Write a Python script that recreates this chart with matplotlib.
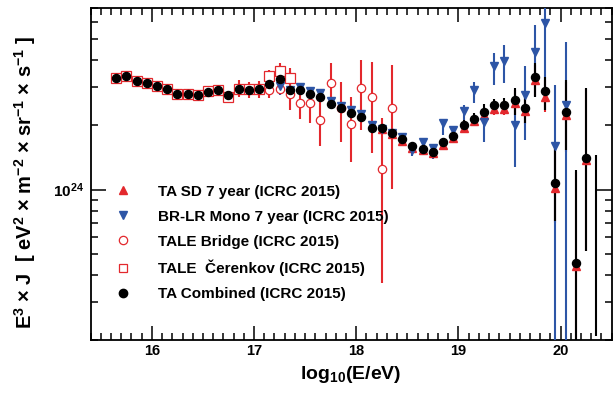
import numpy as np
import matplotlib
matplotlib.use('Agg')
import matplotlib.pyplot as plt
from matplotlib.lines import Line2D
from matplotlib.ticker import FixedLocator, LogLocator, MultipleLocator, NullFormatter

plt.rcParams['font.family'] = ['Liberation Sans', 'DejaVu Sans']
plt.rcParams['font.weight'] = 'bold'
plt.rcParams['mathtext.fontset'] = 'custom'
plt.rcParams['mathtext.rm'] = 'Liberation Sans:bold'
plt.rcParams['mathtext.bf'] = 'Liberation Sans:bold'
plt.rcParams['mathtext.it'] = 'Liberation Sans:bold'
plt.rcParams['mathtext.default'] = 'rm'

UNIT = 1e24  # all values below: E^3 J in units of 1e24 eV^2 m^-2 sr^-1 s^-1
RED = '#e3282d'
BLUE = '#2d55a6'

# TA combined
comb_x = [15.65, 15.75, 15.85, 15.95, 16.05, 16.15, 16.25, 16.35, 16.45, 16.55, 16.65, 16.75,
          16.85, 16.95, 17.05, 17.15, 17.25, 17.35, 17.45, 17.55, 17.65, 17.75, 17.85, 17.95,
          18.05, 18.15, 18.25, 18.35, 18.45, 18.55, 18.65, 18.75, 18.85, 18.95, 19.05, 19.15,
          19.25, 19.35, 19.45, 19.55, 19.65, 19.75, 19.85, 19.95, 20.05, 20.15, 20.25]
comb_y = [3.31, 3.37, 3.19, 3.12, 3.03, 2.93, 2.77, 2.77, 2.76, 2.85, 2.90, 2.75,
          2.94, 2.92, 2.94, 3.11, 3.27, 2.92, 2.92, 2.77, 2.70, 2.50, 2.39, 2.27,
          2.17, 1.94, 1.94, 1.83, 1.72, 1.59, 1.55, 1.50, 1.66, 1.78, 1.99, 2.14,
          2.30, 2.47, 2.48, 2.61, 2.39, 3.35, 2.89, 1.07, 2.29, 0.458, 1.40]
# error bars that stick out of the markers (20.35 has a bar only)
comb_ex = [19.05, 19.15, 19.25, 19.35, 19.45, 19.55, 19.65, 19.75, 19.85, 19.95, 20.05, 20.15, 20.25, 20.35]
comb_lo = [1.88, 2.00, 2.13, 2.27, 2.30, 2.23, 2.04, 2.70, 2.35, 0.713, 1.53, 0.15, 0.518, 0.209]
comb_hi = [2.11, 2.27, 2.50, 2.64, 2.66, 2.97, 2.70, 3.87, 3.34, 1.62, 3.23, 1.23, 2.97, 1.45]

# TA SD 7 year
sd_x = [18.25, 18.35, 18.45, 18.55, 18.65, 18.75, 18.85, 18.95, 19.05, 19.15, 19.25,
        19.35, 19.45, 19.55, 19.65, 19.75, 19.85, 19.95, 20.05, 20.15, 20.25]
sd_y = [1.92, 1.81, 1.69, 1.57, 1.53, 1.48, 1.62, 1.74, 1.94, 2.08, 2.22,
        2.38, 2.38, 2.52, 2.31, 3.23, 2.70, 1.02, 2.22, 0.441, 1.37]
sd_ex = [19.05, 19.15, 19.25, 19.35, 19.45, 19.55, 19.65, 19.75, 19.85, 19.95, 20.05, 20.15, 20.25]
sd_lo = [1.86, 1.98, 2.10, 2.22, 2.22, 2.22, 2.02, 2.72, 2.30, 0.70, 1.50, 0.15, 0.518]
sd_hi = [2.03, 2.19, 2.36, 2.56, 2.56, 2.92, 2.64, 3.80, 3.25, 1.55, 3.15, 1.21, 2.93]

# BR-LR Mono 7 year
br_x = [17.25, 17.35, 17.45, 17.55, 17.65, 17.75, 17.85, 17.95, 18.05, 18.15, 18.25, 18.35,
        18.45, 18.55, 18.65, 18.75, 18.85, 18.95, 19.05, 19.15, 19.25, 19.35, 19.45, 19.55,
        19.65, 19.75, 19.85, 19.95, 20.05]
br_y = [3.03, 2.90, 3.00, 2.87, 2.82, 2.59, 2.45, 2.35, 2.25, 2.00, 1.92, 1.84,
        1.76, 1.53, 1.67, 1.56, 2.04, 1.90, 2.33, 2.90, 2.07, 3.77, 3.98, 2.00,
        2.75, 4.37, 5.93, 1.59, 2.48]
br_lo = [2.75, 2.82, 2.93, 2.79, 2.75, 2.53, 2.39, 2.29, 2.19, 1.95, 1.87, 1.79,
         1.70, 1.43, 1.50, 1.39, 1.80, 1.70, 2.11, 2.52, 1.67, 3.06, 3.13, 1.28,
         1.70, 2.70, 2.35, 0.15, 0.15]
br_hi = [3.13, 2.98, 3.07, 2.95, 2.90, 2.65, 2.51, 2.40, 2.30, 2.05, 1.97, 1.89,
         1.82, 1.62, 1.74, 1.62, 2.13, 1.96, 2.48, 3.17, 2.27, 4.31, 4.69, 2.90,
         3.75, 5.81, 8.0, 3.06, 4.86]

# TALE Cerenkov
ck_x = [15.65, 15.75, 15.85, 15.95, 16.05, 16.15, 16.25, 16.35, 16.45, 16.55, 16.65, 16.75,
        16.85, 16.95, 17.05, 17.15, 17.25, 17.35]
ck_y = [3.31, 3.37, 3.19, 3.12, 3.03, 2.93, 2.77, 2.77, 2.76, 2.87, 2.92, 2.70,
        2.95, 2.95, 2.95, 3.37, 3.57, 3.29]
ck_lo = [3.25, 3.31, 3.13, 3.06, 2.97, 2.87, 2.71, 2.71, 2.70, 2.79, 2.84, 2.60,
         2.70, 2.67, 2.66, 3.15, 2.90, 3.05]
ck_hi = [3.37, 3.43, 3.25, 3.18, 3.09, 2.99, 2.83, 2.83, 2.82, 2.95, 3.00, 2.80,
         3.24, 3.16, 3.21, 3.59, 3.87, 3.55]

# TALE Bridge
tb_x = [17.15, 17.25, 17.35, 17.45, 17.55, 17.65, 17.75, 17.85, 17.95, 18.05, 18.15, 18.25, 18.35]
tb_y = [2.90, 2.95, 2.77, 2.54, 2.52, 2.10, 3.14, 2.39, 2.02, 2.96, 2.70, 1.25, 2.40]
tb_lo = [2.66, 2.80, 2.35, 2.13, 2.05, 1.59, 2.43, 1.67, 1.34, 1.90, 1.48, 0.37, 1.01]
tb_hi = [3.20, 3.10, 3.67, 2.97, 2.90, 2.61, 3.86, 3.17, 2.70, 4.01, 3.93, 2.15, 3.79]


def sc(v):
    return np.asarray(v) * UNIT


fig = plt.figure(figsize=(6.16, 3.94), dpi=100)
ax = fig.add_axes([0.147, 0.137, 0.846, 0.843])

# error bars
ax.vlines(ck_x, sc(ck_lo), sc(ck_hi), color=RED, lw=1.5, zorder=2)
ax.vlines(tb_x, sc(tb_lo), sc(tb_hi), color=RED, lw=1.5, zorder=2)
ax.vlines(sd_ex, sc(sd_lo), sc(sd_hi), color=RED, lw=1.5, zorder=2)
ax.vlines(br_x, sc(br_lo), sc(br_hi), color=BLUE, lw=1.5, zorder=3)
ax.vlines(comb_ex, sc(comb_lo), sc(comb_hi), color='black', lw=1.5, zorder=4)

# markers
ax.plot(ck_x, sc(ck_y), ls='none', marker='s', ms=6.5, mfc='white', mec=RED, mew=0.9, zorder=3)
ax.plot(tb_x, sc(tb_y), ls='none', marker='o', ms=6, mfc='white', mec=RED, mew=0.9, zorder=3)
ax.plot(sd_x, sc(sd_y), ls='none', marker='^', ms=5.5, color=RED, zorder=4)
ax.plot(br_x, sc(br_y), ls='none', marker='v', ms=6, color=BLUE, zorder=5)
ax.plot(comb_x, sc(comb_y), ls='none', marker='o', ms=5.8, color='black', zorder=6)

ax.set_xlim(15.4, 20.5)
ax.set_yscale('log')
ax.set_ylim(2.0e23, 7.0e24)

ax.xaxis.set_major_locator(MultipleLocator(1))
ax.xaxis.set_minor_locator(MultipleLocator(0.1))
ax.yaxis.set_major_locator(FixedLocator([1e24]))
ax.yaxis.set_minor_locator(LogLocator(base=10, subs=np.arange(2, 10)))
ax.yaxis.set_minor_formatter(NullFormatter())
ax.set_yticklabels(['10$^{24}$'])
ax.tick_params(which='both', direction='in', top=True, right=True, width=1.1)
ax.tick_params(axis='x', which='major', length=10, pad=3, labelsize=10.5)
ax.tick_params(axis='y', which='major', length=11, pad=5, labelsize=11)
ax.tick_params(which='minor', length=5)
for s in ax.spines.values():
    s.set_linewidth(1.3)

ax.set_xlabel('log$_{10}$(E/eV)', fontsize=14, fontweight='bold', labelpad=4)
ax.set_ylabel('E$^{3}$ × J  [ eV$^{2}$ × m$^{-2}$ × sr$^{-1}$ × s$^{-1}$ ]',
              fontsize=14.5, fontweight='bold')
ax.yaxis.set_label_coords(-0.10, 0.475)

handles = [
    Line2D([], [], ls='none', marker='^', ms=6, color=RED, label='TA SD 7 year (ICRC 2015)'),
    Line2D([], [], ls='none', marker='v', ms=6, color=BLUE, label='BR-LR Mono 7 year (ICRC 2015)'),
    Line2D([], [], ls='none', marker='o', ms=6, mfc='white', mec=RED, mew=0.9, label='TALE Bridge (ICRC 2015)'),
    Line2D([], [], ls='none', marker='s', ms=6, mfc='white', mec=RED, mew=0.9, label='TALE  Čerenkov (ICRC 2015)'),
    Line2D([], [], ls='none', marker='o', ms=6, color='black', label='TA Combined (ICRC 2015)'),
]
ax.legend(handles=handles, loc='upper left', bbox_to_anchor=(0.048, 0.468), frameon=False,
          borderpad=0, borderaxespad=0, handlelength=1.0, handletextpad=1.8,
          labelspacing=0.72, prop={'weight': 'bold', 'size': 11})

fig.savefig('out.png', dpi=100)
